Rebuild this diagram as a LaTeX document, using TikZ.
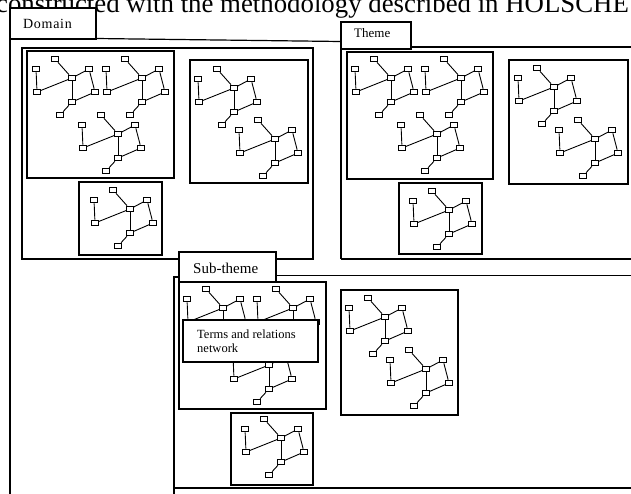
\documentclass[tikz,border=0pt]{standalone}
\usepackage{fontspec}
\setmainfont{Liberation Serif}
\tikzset{
  frameline/.style={draw=black, line width=1.2pt},
  boxline/.style={draw=black, line width=1.3pt},
  tabbox/.style={draw=black, fill=white, line width=1.3pt},
  nd/.style={draw=black, fill=white, minimum width=6.8pt, minimum height=5.8pt, inner sep=0pt, line width=0.9pt},
  edgeline/.style={line width=0.9pt},
  lbl/.style={inner sep=0pt, anchor=base west}
}
\newcommand\drawnet[3]{%
  \begin{scope}[shift={(#2,#3)}]
    \node[nd] (#1h) at (0,0) {};
    \node[nd] (#1a) at (-17,-19) {};
    \node[nd] (#1b) at (-36,-9) {};
    \node[nd] (#1c) at (17,-9) {};
    \node[nd] (#1d) at (-35,14) {};
    \node[nd] (#1e) at (23,14) {};
    \node[nd] (#1f) at (0,24) {};
    \node[nd] (#1g) at (-12,37) {};
    \draw[edgeline] (#1b) -- (#1d);
    \draw[edgeline] (#1d) -- (#1h);
    \draw[edgeline] (#1a) -- (#1h);
    \draw[edgeline] (#1h) -- (#1c);
    \draw[edgeline] (#1c) -- (#1e);
    \draw[edgeline] (#1h) -- (#1f);
    \draw[edgeline] (#1f) -- (#1e);
    \draw[edgeline] (#1f) -- (#1g);
  \end{scope}}
\begin{document}
\begin{tikzpicture}[x=1pt, y=-1pt]
\useasboundingbox (0,0) rectangle (631,493);
\fill[white] (0,0) rectangle (631,493);
\clip (0,0) rectangle (631,493);

% clipped caption line at top
\node[lbl] (caption) at (-4,12) {\fontsize{26.8}{27}\selectfont constructed with the methodology described in HOLSCHE};

% Domain frame
\draw[frameline] (10,39) -- (10,500);
\draw[frameline] (96,38.5) -- (341,41.5);
\draw[boxline] (22,48) rectangle (313,259);
\draw[boxline] (27,51) rectangle (174,178);
\draw[boxline] (190,60) rectangle (308,183);
\draw[boxline] (79,182) rectangle (162,255);
\drawnet{A1}{72}{78}
\drawnet{A2}{142}{78}
\drawnet{A3}{118}{134}
\drawnet{B1}{234}{88}
\drawnet{B2}{275}{139}
\drawnet{C1}{130}{209}

% Theme frame
\draw[frameline] (341,259) -- (341,47) -- (650,47);
\draw[frameline] (341,259) -- (650,259);
\draw[boxline] (347,52) rectangle (493,179);
\draw[boxline] (509,60) rectangle (628,184);
\draw[boxline] (399,183) rectangle (482,254);
\drawnet{G1}{391}{78}
\drawnet{G2}{461}{78}
\drawnet{G3}{437}{134}
\drawnet{I1}{554}{87}
\drawnet{I2}{595}{139}
\drawnet{H1}{449}{210}

% Sub-theme frame
\draw[frameline] (174,500) -- (174,277) -- (179,277);
\draw[frameline] (276,275.5) -- (650,275.5);
\draw[frameline] (174,488) -- (650,488);
\draw[boxline] (179,282) rectangle (326,409);
\draw[boxline] (341,290) rectangle (458,415);
\draw[boxline] (231,413) rectangle (313,485);
\drawnet{D1}{223}{308}
\drawnet{D2}{293}{308}
\drawnet{D3}{269}{365}
\drawnet{E1}{385}{317}
\drawnet{E2}{426}{369}
\drawnet{F1}{281}{438}

% tabs
\draw[tabbox] (10,8) rectangle (96,39);
\node[lbl] (domaintxt) at (23,28.5) {\fontsize{14}{15}\selectfont\addfontfeature{LetterSpace=5}Domain};
\draw[tabbox] (341,22) rectangle (411,49);
\node[lbl] (themetxt) at (354,37.5) {\fontsize{13}{14}\selectfont Theme};
\draw[tabbox] (179,252) rectangle (276,282);
\node[lbl] (subthemetxt) at (193,273) {\fontsize{15}{16}\selectfont Sub-theme};

% label box
\draw[tabbox] (183,320) rectangle (318,362);
\node[lbl] (terms1) at (197,338) {\fontsize{12.5}{13}\selectfont Terms and relations};
\node[lbl] (terms2) at (197,352) {\fontsize{12.5}{13}\selectfont network};
\end{tikzpicture}
\end{document}
